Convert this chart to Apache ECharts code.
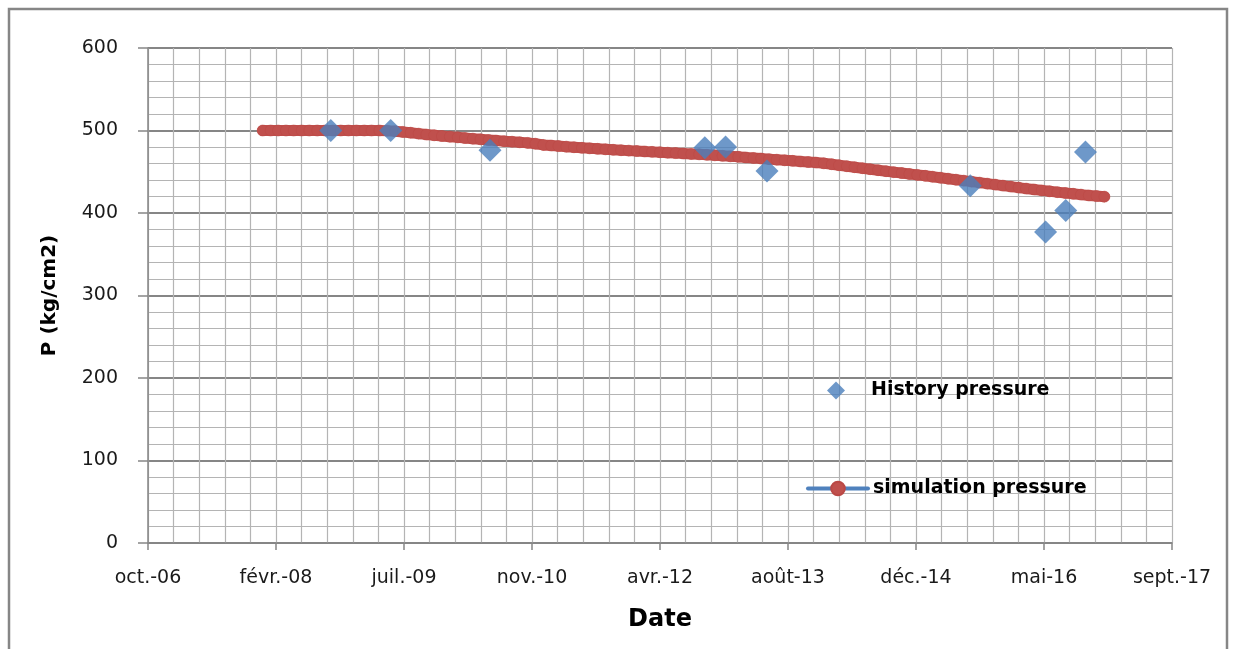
<!DOCTYPE html>
<html>
<head>
<meta charset="utf-8">
<title>P (kg/cm2) – History / simulation pressure</title>
<script src="https://cdn.jsdelivr.net/npm/echarts@6/dist/echarts.min.js"></script>
<style>
  html, body { margin: 0; padding: 0; background: #ffffff; }
  #chart { width: 1236px; height: 649px; }
</style>
</head>
<body>
<div id="chart"></div>
<script>
// Date axis in spreadsheet serial days, one major tick every 500 days
const xTickLabels = ['oct.-06', 'févr.-08', 'juil.-09', 'nov.-10', 'avr.-12',
                     'août-13', 'déc.-14', 'mai-16', 'sept.-17'];
const yTickLabels = ['0', '100', '200', '300', '400', '500', '600'];

// Measured pressures
const histDates = ['2008-09-23', '2009-05-15', '2010-06-07', '2012-09-23', '2012-12-13',
                   '2013-05-24', '2015-07-27', '2016-05-16', '2016-08-03', '2016-10-19'];
const histValues = [500, 500, 476, 479, 480, 451, 433, 377, 403, 474];

// Simulated pressure, one value per month starting January 2008
const simStart = '2008-01';
const simValues = [
  500, 500, 500, 500, 500, 500, 500, 500, 500, 500, 500, 500,                         // 2008
  500, 500, 500, 500, 499.8, 499.2, 498.3, 497.3, 496.2, 495.1, 494.2, 493.3,         // 2009
  492.5, 491.7, 490.9, 490.1, 489.3, 488.5, 487.8, 487.1, 486.4, 485.7, 485.0, 484.0, // 2010
  482.5, 481.8, 481.1, 480.4, 479.7, 479.0, 478.4, 477.8, 477.2, 476.6, 476.1, 475.6, // 2011
  475.1, 474.6, 474.1, 473.6, 473.1, 472.6, 472.1, 471.6, 471.1, 470.5, 469.9, 469.3, // 2012
  468.7, 468.1, 467.4, 466.7, 466.0, 465.3, 464.6, 463.9, 463.2, 462.5, 461.8, 461.1, // 2013
  460.2, 459.1, 457.9, 456.7, 455.5, 454.3, 453.1, 451.9, 450.7, 449.5, 448.4, 447.3, // 2014
  446.2, 445.1, 444.0, 442.8, 441.6, 440.4, 439.2, 438.0, 436.8, 435.6, 434.4, 433.2, // 2015
  432.0, 430.8, 429.6, 428.5, 427.4, 426.3, 425.3, 424.3, 423.3, 422.3, 421.3, 420.5, // 2016
  419.8                                                                               // 2017
];

// Spreadsheet-style serial day number (1899-12-30 = 0)
function serial(y, m, d) {
  return Math.round((Date.UTC(y, m - 1, d) - Date.UTC(1899, 11, 30)) / 864e5);
}
function serialFromIso(s) {
  const p = s.split('-').map(Number);
  return serial(p[0], p[1], p[2] || 1);
}

const X_MIN = 39000, X_MAX = 43000, X_STEP = 500;

const histData = histDates.map((d, i) => [serialFromIso(d), histValues[i]]);
const sp = simStart.split('-').map(Number);
const simData = simValues.map((v, i) => {
  const k = sp[1] - 1 + i;
  return [serial(sp[0] + Math.floor(k / 12), (k % 12) + 1, 1), v];
});

const FONT = 'DejaVu Sans';
const AXIS_GREY = '#868686';
const MINOR_GREY = '#b4b4b4';
const SIM_RED = '#C0504D';
const SIM_BLUE = '#4F81BD';
const HIST_BLUE = '#4A7EBB';

const legendText = { fontFamily: FONT, fontSize: 19, fontWeight: 'bold', color: '#000' };

const chart = echarts.init(document.getElementById('chart'), null, { renderer: 'canvas' });

chart.setOption({
  backgroundColor: '#ffffff',
  animation: false,
  grid: { left: 148, right: 64, top: 48, bottom: 106, containLabel: false },
  xAxis: {
    type: 'value',
    min: X_MIN, max: X_MAX, interval: X_STEP,
    name: 'Date',
    nameLocation: 'middle',
    nameGap: 65,
    nameTextStyle: { fontFamily: FONT, fontSize: 24, fontWeight: 'bold', color: '#000' },
    axisLine: { show: true, onZero: false, lineStyle: { color: AXIS_GREY, width: 1.5 } },
    axisTick: { show: true, inside: false, length: 7, lineStyle: { color: AXIS_GREY, width: 1.5 } },
    axisLabel: {
      show: true, margin: 26, showMinLabel: true, showMaxLabel: true,
      fontFamily: FONT, fontSize: 19, color: '#1a1a1a',
      formatter: v => xTickLabels[Math.round((v - X_MIN) / X_STEP)] || ''
    },
    splitLine: { show: true, lineStyle: { color: MINOR_GREY, width: 1.2 } },
    minorTick: { show: false, splitNumber: 5 },
    minorSplitLine: { show: true, lineStyle: { color: MINOR_GREY, width: 1.2 } }
  },
  yAxis: {
    type: 'value',
    min: 0, max: 600, interval: 100,
    name: 'P (kg/cm2)',
    nameLocation: 'middle',
    nameRotate: 90,
    nameGap: 88,
    nameTextStyle: { fontFamily: FONT, fontSize: 20, fontWeight: 'bold', color: '#000' },
    axisLine: { show: true, lineStyle: { color: AXIS_GREY, width: 1.5 } },
    axisTick: { show: true, inside: false, length: 10, lineStyle: { color: AXIS_GREY, width: 1.5 } },
    axisLabel: {
      show: true, margin: 30,
      fontFamily: FONT, fontSize: 19, color: '#1a1a1a',
      formatter: v => yTickLabels[Math.round(v / 100)] || ''
    },
    splitLine: { show: true, lineStyle: { color: AXIS_GREY, width: 2 } },
    minorTick: { show: false, splitNumber: 5 },
    minorSplitLine: { show: true, lineStyle: { color: MINOR_GREY, width: 1.2 } }
  },
  legend: [
    {
      // diamond icon centred at the same spot as the line icon below
      data: [{ name: 'History pressure', icon: 'diamond' }],
      left: 827, top: 381,
      itemWidth: 18, itemHeight: 18,
      padding: 0, selectedMode: false,
      textStyle: Object.assign({ padding: [0, 0, 0, 21] }, legendText)
    },
    {
      data: [{
        name: 'simulation pressure',
        lineStyle: { color: SIM_BLUE, width: 4 },
        itemStyle: { color: SIM_RED }
      }],
      left: 806, top: 479,
      itemWidth: 60, itemHeight: 17,
      padding: 0, selectedMode: false,
      textStyle: legendText
    }
  ],
  series: [
    {
      name: 'simulation pressure',
      type: 'line',
      data: simData,
      showSymbol: true,
      showAllSymbol: true,
      symbol: 'circle',
      symbolSize: 11,
      lineStyle: { color: SIM_RED, width: 11, cap: 'round', join: 'round' },
      itemStyle: { color: SIM_RED, borderColor: '#BA4845', borderWidth: 0.5 },
      z: 2
    },
    {
      name: 'History pressure',
      type: 'scatter',
      data: histData,
      symbol: 'diamond',
      symbolSize: 23,
      itemStyle: { color: HIST_BLUE },
      z: 3
    }
  ],
  graphic: [
    {
      type: 'rect',
      silent: true,
      shape: { x: 9, y: 9, width: 1218, height: 700 },
      style: { fill: 'none', stroke: AXIS_GREY, lineWidth: 2.5 },
      z: 100
    }
  ]
});
</script>
</body>
</html>
